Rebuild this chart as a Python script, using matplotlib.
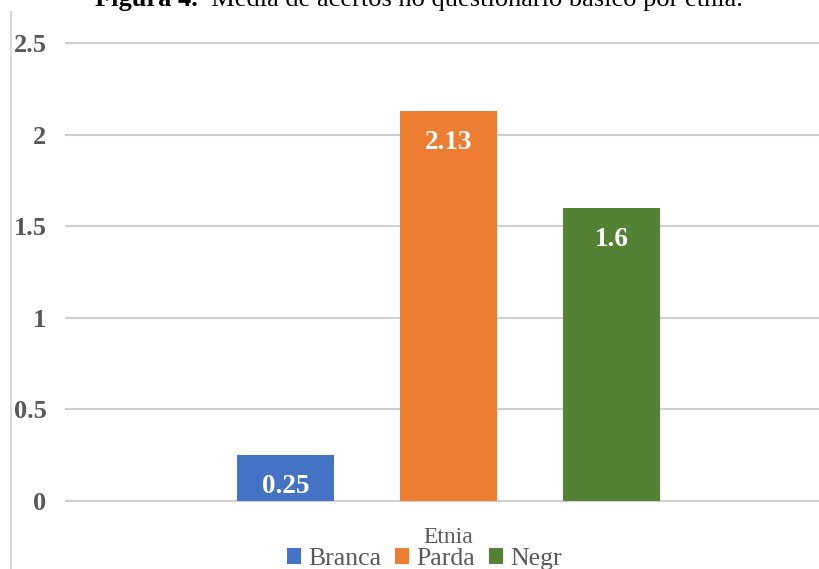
import matplotlib
matplotlib.use("Agg")
import matplotlib.pyplot as plt
from matplotlib.lines import Line2D

# Mean correct answers on the basic questionnaire, by ethnicity
category = "Etnia"
series = ["Branca", "Parda", "Negr"]
values = [0.25, 2.13, 1.6]
colors = ["#4472C4", "#ED7D31", "#548235"]
yticks = [0, 0.5, 1, 1.5, 2, 2.5]

W, H = 820, 569
fig = plt.figure(figsize=(W / 100, H / 100), dpi=100)
serif = ["Liberation Serif", "DejaVu Serif"]
gray = "#595959"

# plot area in pixel terms
left_px, right_px, top_px, bottom_px = 66, 820, 43, 501
ax = fig.add_axes([left_px / W, 1 - bottom_px / H,
                   (right_px - left_px) / W, (bottom_px - top_px) / H])

step = 1.0
width = 0.595
offsets = [(i - (len(series) - 1) / 2) * step for i in range(len(series))]
bars = []
for off, name, v, c in zip(offsets, series, values, colors):
    b = ax.bar(off, v, width=width, color=c, label=name, zorder=3)
    bars.append(b)
    ax.annotate(f"{v:g}", xy=(off, v), xytext=(0, -22.5), textcoords="offset points",
                ha="center", va="center", color="white", fontsize=19.5,
                fontweight="bold", family=serif, zorder=4)

# x range so that the group sits where the plot area dictates
px_per_unit = 163.0
center_px = 448.5
ax.set_xlim((left_px - center_px) / px_per_unit, (right_px - center_px) / px_per_unit)
ax.set_ylim(0, 2.5)

ax.set_yticks(yticks)
ax.set_yticklabels([f"{t:g}" for t in yticks], fontsize=19, fontweight="bold",
                   family=serif, color=gray)
ax.tick_params(axis="y", length=0, pad=14)
ax.set_xticks([0])
ax.set_xticklabels([category], fontsize=17, family=serif, color=gray)
ax.tick_params(axis="x", length=0, pad=19)

for t in yticks:
    ax.axhline(t, color="#d0d0d0", lw=1.5, zorder=1, clip_on=False)
for s in ax.spines.values():
    s.set_visible(False)

leg = fig.legend(handles=[b[0] for b in bars], labels=series, ncol=3,
                 loc="center left", bbox_to_anchor=(287 / W, 1 - 559 / H),
                 frameon=False, borderpad=0, borderaxespad=0,
                 handlelength=0.55, handleheight=0.55, handletextpad=0.27,
                 columnspacing=0.55, prop={"family": serif, "size": 18.5})
for txt in leg.get_texts():
    txt.set_color(gray)

# chart border on the left
fig.add_artist(Line2D([11 / W, 11 / W], [0, 1 - 12 / H], color="#d9d9d9", lw=1.5))

# caption: bold label followed by regular text on the same baseline
base_y = 1 - 6 / H
t1 = fig.text(95 / W, base_y, "Figura 4.", fontsize=19, fontweight="bold",
              family=serif, va="baseline", ha="left", color="black")
fig.canvas.draw()
x_end = t1.get_window_extent().x1 / (W)
fig.text(x_end, base_y, "  Média de acertos no questionário básico por etnia.",
         fontsize=19, family=serif, va="baseline", ha="left", color="black")

fig.savefig("out.png", dpi=100)
